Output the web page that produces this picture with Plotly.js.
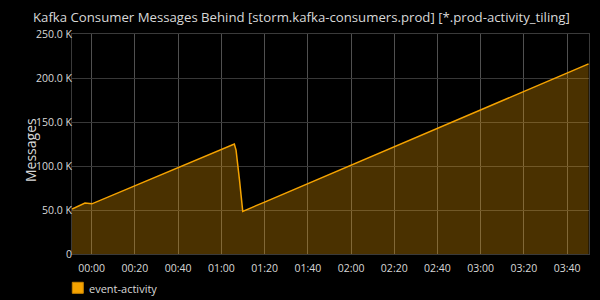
<!DOCTYPE html>
<html><head><meta charset="utf-8">
<script src="https://cdn.plot.ly/plotly-3.0.1.min.js"></script>
<style>html,body{margin:0;padding:0;background:#000;}#chart{width:600px;height:300px;}</style>
</head><body><div id="chart"></div>
<script>
const seriesName = "event-activity";
const chartTitle = "Kafka Consumer Messages Behind [storm.kafka-consumers.prod] [*.prod-activity_tiling]";
const yAxisTitle = "Messages";
const times = [
  "2016-12-31 23:50:54","2016-12-31 23:56:54","2017-01-01 00:00:06",
  "2017-01-01 00:10:00","2017-01-01 00:20:00","2017-01-01 00:30:00","2017-01-01 00:40:00",
  "2017-01-01 00:50:00","2017-01-01 01:00:00","2017-01-01 01:06:00",
  "2017-01-01 01:06:48","2017-01-01 01:07:36","2017-01-01 01:08:24","2017-01-01 01:09:12",
  "2017-01-01 01:09:54","2017-01-01 01:20:00","2017-01-01 01:30:00","2017-01-01 01:40:00",
  "2017-01-01 01:50:00","2017-01-01 02:00:00","2017-01-01 02:10:00","2017-01-01 02:20:00",
  "2017-01-01 02:30:00","2017-01-01 02:40:00","2017-01-01 02:50:00","2017-01-01 03:00:00",
  "2017-01-01 03:10:00","2017-01-01 03:20:00","2017-01-01 03:30:00","2017-01-01 03:40:00",
  "2017-01-01 03:49:54"
];
const values = [
  51000, 58000, 57000,
  67200, 77500, 87900, 98200,
  108500, 118800, 125000,
  118000, 103000, 84000, 65000,
  48500, 59000, 69500, 80000,
  90500, 101000, 111300, 121800,
  132300, 142800, 153300, 163700,
  174200, 184700, 195200, 205600,
  216000
];
const xTickVals = ["2017-01-01 00:00","2017-01-01 00:20","2017-01-01 00:40","2017-01-01 01:00","2017-01-01 01:20","2017-01-01 01:40","2017-01-01 02:00","2017-01-01 02:20","2017-01-01 02:40","2017-01-01 03:00","2017-01-01 03:20","2017-01-01 03:40"];
const xTickText = ["00:00","00:20","00:40","01:00","01:20","01:40","02:00","02:20","02:40","03:00","03:20","03:40"];
const yTickVals = [0, 50000, 100000, 150000, 200000, 250000];
const yTickText = ["0","50.0 K","100.0 K","150.0 K","200.0 K","250.0 K"];

const font = "Open Sans, sans-serif";
const txt = "#d8d8d8";
const orange = "#F5A300";
const traces = [
  {x: times, y: values, type: "scatter", mode: "lines", fill: "tozeroy", name: seriesName,
   fillcolor: "rgba(245,163,0,0.3)", line: {color: orange, width: 1.5},
   showlegend: false, hoverinfo: "skip"}
];
const layout = {
  width: 600, height: 300,
  paper_bgcolor: "#000", plot_bgcolor: "#000",
  margin: {l: 72, r: 11, t: 34, b: 46, autoexpand: false},
  font: {family: font, color: txt, size: 10.5},
  showlegend: false,
  xaxis: {type: "date", range: ["2016-12-31 23:50:54", "2017-01-01 03:50:06"],
          tickvals: xTickVals, ticktext: xTickText, showgrid: true, gridcolor: "#505050", gridwidth: 1,
          showline: true, linecolor: "#3a3a3a", mirror: true, zeroline: false, ticks: "",
          ticklabelstandoff: 4, automargin: false,
          tickfont: {family: font, size: 10.5, color: txt}},
  yaxis: {range: [0, 250000], tickvals: yTickVals, ticktext: yTickText, showgrid: true,
          gridcolor: "#383838", gridwidth: 1, showline: true, linecolor: "#3a3a3a", mirror: true,
          zeroline: false, ticks: "", ticklabelstandoff: -3, automargin: false,
          tickfont: {family: font, size: 10.5, color: txt}},
  shapes: [
    {type: "rect", xref: "paper", yref: "paper",
     x0: 0.3/517, x1: 11.3/517, y0: -39.3/220, y1: -28.3/220,
     fillcolor: orange, line: {color: "#c88400", width: 1}}
  ],
  annotations: [
    {text: chartTitle, xref: "paper", yref: "paper", x: (32 - 72)/517, y: (254 - 17)/220,
     xanchor: "left", yanchor: "middle", showarrow: false, borderpad: 0,
     font: {family: font, size: 13.2, color: txt}},
    {text: seriesName, xref: "paper", yref: "paper", x: 15/517, y: -34/220,
     xanchor: "left", yanchor: "middle", showarrow: false,
     font: {family: font, size: 11, color: txt}},
    {text: yAxisTitle, xref: "paper", yref: "paper", x: -42/517, y: 104/220,
     xanchor: "center", yanchor: "middle", textangle: -90, showarrow: false,
     font: {family: font, size: 14, color: txt}}
  ]
};
Plotly.newPlot("chart", traces, layout, {displayModeBar: false, staticPlot: true});
</script></body></html>
